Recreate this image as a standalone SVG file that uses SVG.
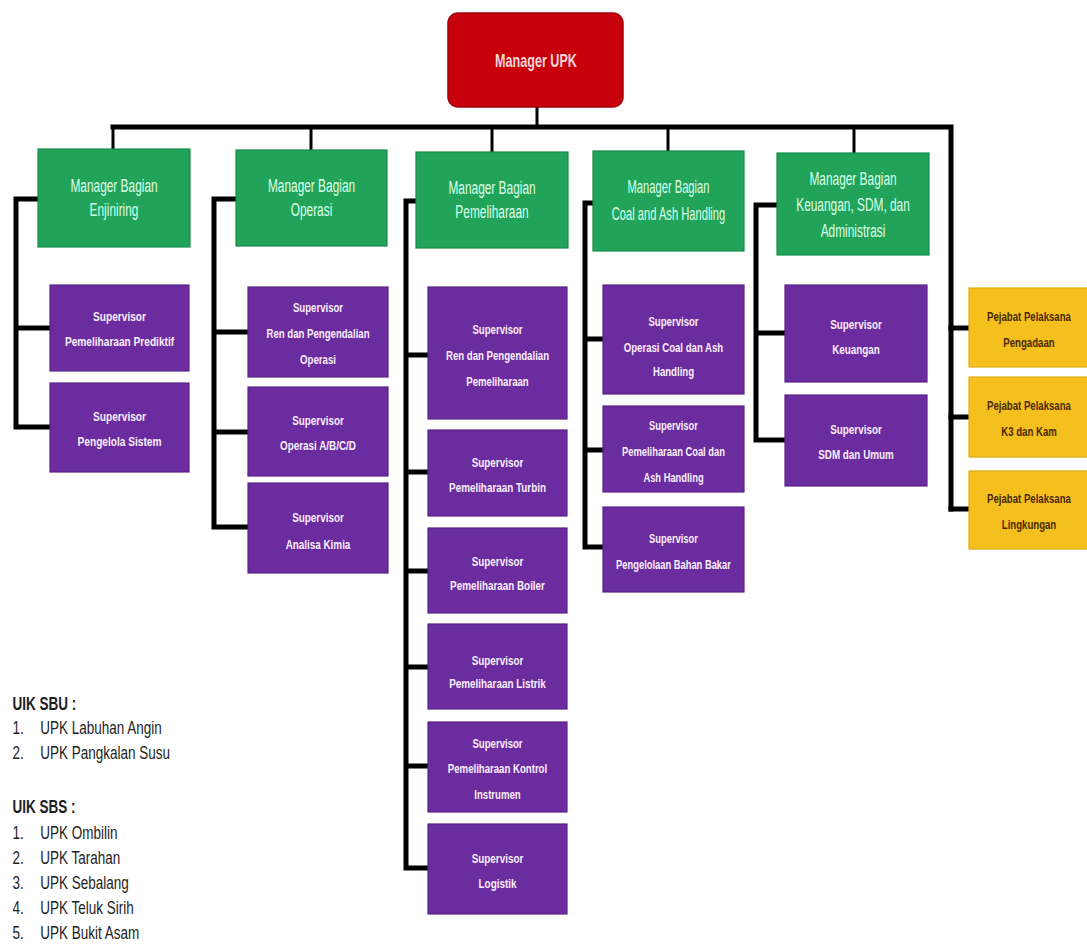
<svg xmlns="http://www.w3.org/2000/svg" width="1087" height="946" viewBox="0 0 1087 946">
<style>
.bg{fill:#ffffff}
.red{fill:#c8000c;stroke:#a00008;stroke-width:1.5}
.grn{fill:#21a45a;stroke:#1a8a4a;stroke-width:1.2}
.pur{fill:#6a2c9e;stroke:#5a2388;stroke-width:1.2}
.yel{fill:#f5bf1e;stroke:#e2ac12;stroke-width:1.2}
.tr{font-family:"Liberation Sans",Arial,sans-serif;font-weight:bold;font-size:18px;fill:#f6d6d6;text-anchor:middle}
.tg{font-family:"Liberation Sans",Arial,sans-serif;font-size:18px;fill:#dcffe9;text-anchor:middle}
.tp{font-family:"Liberation Sans",Arial,sans-serif;font-weight:bold;font-size:13px;fill:#fbefff;text-anchor:middle}
.ty{font-family:"Liberation Sans",Arial,sans-serif;font-weight:bold;font-size:13px;fill:#4a2a00;text-anchor:middle}
.tl{font-family:"Liberation Sans",Arial,sans-serif;font-size:18.5px;fill:#1e1e1e}
.tlb{font-weight:bold}
.ln{fill:none;stroke:#000;stroke-width:5;stroke-linecap:square;stroke-linejoin:miter}
.lt{fill:none;stroke:#000;stroke-width:3}
</style>
<rect class="bg" x="0" y="0" width="1087" height="946"/>

<g id="connectors">
  <path class="lt" d="M537 107 V127"/>
  <path class="ln" d="M113 127 H951 V509"/>
  <path class="lt" d="M113 127 V149 M311 127 V150 M492 127 V152 M668 127 V151 M854 127 V153"/>
  <path class="ln" d="M951 328 H967 M951 417 H967 M951 509 H967"/>
  <path class="ln" d="M37 199 H16 V427 M16 328 H48 M16 427 H48"/>
  <path class="ln" d="M235 199 H214 V527 M214 332 H246 M214 432 H246 M214 527 H246"/>
  <path class="ln" d="M415 201 H406 V868 M406 355 H426 M406 472 H426 M406 571 H426 M406 667 H426 M406 766 H426 M406 868 H426"/>
  <path class="ln" d="M592 203 H585 V547 M585 339 H601 M585 450 H601 M585 547 H601"/>
  <path class="ln" d="M776 205 H756 V440 M756 333 H783 M756 440 H783"/>
</g>

<g id="manager-upk">
  <rect class="red" x="448" y="13" width="175" height="94" rx="10"/>
  <text class="tr" transform="translate(536 0) scale(0.7 1)" x="0" y="67">Manager UPK</text>
</g>

<g id="mb-enjiniring">
  <rect class="grn" x="38" y="149" width="152" height="98"/>
  <text class="tg" transform="translate(114 0) scale(0.66 1)" x="0" y="192">Manager Bagian</text>
  <text class="tg" transform="translate(114 0) scale(0.66 1)" x="0" y="216">Enjiniring</text>
</g>
<g id="mb-operasi">
  <rect class="grn" x="236" y="150" width="151" height="96"/>
  <text class="tg" transform="translate(311.5 0) scale(0.66 1)" x="0" y="192">Manager Bagian</text>
  <text class="tg" transform="translate(311.5 0) scale(0.66 1)" x="0" y="216">Operasi</text>
</g>
<g id="mb-pemeliharaan">
  <rect class="grn" x="416" y="152" width="152" height="96"/>
  <text class="tg" transform="translate(492 0) scale(0.66 1)" x="0" y="194">Manager Bagian</text>
  <text class="tg" transform="translate(492 0) scale(0.66 1)" x="0" y="218">Pemeliharaan</text>
</g>
<g id="mb-coal">
  <rect class="grn" x="593" y="151" width="151" height="100"/>
  <text class="tg" transform="translate(668.5 0) scale(0.62 1)" x="0" y="193">Manager Bagian</text>
  <text class="tg" transform="translate(668.5 0) scale(0.62 1)" x="0" y="220">Coal and Ash Handling</text>
</g>
<g id="mb-keuangan">
  <rect class="grn" x="777" y="153" width="152" height="102"/>
  <text class="tg" transform="translate(853 0) scale(0.66 1)" x="0" y="185">Manager Bagian</text>
  <text class="tg" transform="translate(853 0) scale(0.66 1)" x="0" y="211">Keuangan, SDM, dan</text>
  <text class="tg" transform="translate(853 0) scale(0.66 1)" x="0" y="237">Administrasi</text>
</g>

<g id="sup-prediktif">
  <rect class="pur" x="50" y="285" width="139" height="86"/>
  <text class="tp" transform="translate(119.5 0) scale(0.78 1)" x="0" y="321">Supervisor</text>
  <text class="tp" transform="translate(119.5 0) scale(0.78 1)" x="0" y="346">Pemeliharaan Prediktif</text>
</g>
<g id="sup-sistem">
  <rect class="pur" x="50" y="383" width="139" height="89"/>
  <text class="tp" transform="translate(119.5 0) scale(0.78 1)" x="0" y="421">Supervisor</text>
  <text class="tp" transform="translate(119.5 0) scale(0.78 1)" x="0" y="446">Pengelola Sistem</text>
</g>

<g id="sup-ren-operasi">
  <rect class="pur" x="248" y="287" width="140" height="90"/>
  <text class="tp" transform="translate(318 0) scale(0.74 1)" x="0" y="312">Supervisor</text>
  <text class="tp" transform="translate(318 0) scale(0.74 1)" x="0" y="338">Ren dan Pengendalian</text>
  <text class="tp" transform="translate(318 0) scale(0.74 1)" x="0" y="364">Operasi</text>
</g>
<g id="sup-operasi-abcd">
  <rect class="pur" x="248" y="387" width="140" height="89"/>
  <text class="tp" transform="translate(318 0) scale(0.76 1)" x="0" y="425">Supervisor</text>
  <text class="tp" transform="translate(318 0) scale(0.76 1)" x="0" y="450">Operasi A/B/C/D</text>
</g>
<g id="sup-kimia">
  <rect class="pur" x="248" y="483" width="140" height="90"/>
  <text class="tp" transform="translate(318 0) scale(0.76 1)" x="0" y="522">Supervisor</text>
  <text class="tp" transform="translate(318 0) scale(0.76 1)" x="0" y="549">Analisa Kimia</text>
</g>

<g id="sup-ren-pemeliharaan">
  <rect class="pur" x="428" y="287" width="139" height="132"/>
  <text class="tp" transform="translate(497.5 0) scale(0.74 1)" x="0" y="334">Supervisor</text>
  <text class="tp" transform="translate(497.5 0) scale(0.74 1)" x="0" y="360">Ren dan Pengendalian</text>
  <text class="tp" transform="translate(497.5 0) scale(0.74 1)" x="0" y="386">Pemeliharaan</text>
</g>
<g id="sup-turbin">
  <rect class="pur" x="428" y="430" width="139" height="86"/>
  <text class="tp" transform="translate(497.5 0) scale(0.76 1)" x="0" y="467">Supervisor</text>
  <text class="tp" transform="translate(497.5 0) scale(0.76 1)" x="0" y="492">Pemeliharaan Turbin</text>
</g>
<g id="sup-boiler">
  <rect class="pur" x="428" y="528" width="139" height="85"/>
  <text class="tp" transform="translate(497.5 0) scale(0.76 1)" x="0" y="566">Supervisor</text>
  <text class="tp" transform="translate(497.5 0) scale(0.76 1)" x="0" y="590">Pemeliharaan Boiler</text>
</g>
<g id="sup-listrik">
  <rect class="pur" x="428" y="624" width="139" height="85"/>
  <text class="tp" transform="translate(497.5 0) scale(0.76 1)" x="0" y="665">Supervisor</text>
  <text class="tp" transform="translate(497.5 0) scale(0.76 1)" x="0" y="688">Pemeliharaan Listrik</text>
</g>
<g id="sup-kontrol">
  <rect class="pur" x="428" y="722" width="139" height="90"/>
  <text class="tp" transform="translate(497.5 0) scale(0.74 1)" x="0" y="748">Supervisor</text>
  <text class="tp" transform="translate(497.5 0) scale(0.74 1)" x="0" y="773">Pemeliharaan Kontrol</text>
  <text class="tp" transform="translate(497.5 0) scale(0.74 1)" x="0" y="799">Instrumen</text>
</g>
<g id="sup-logistik">
  <rect class="pur" x="428" y="824" width="139" height="90"/>
  <text class="tp" transform="translate(497.5 0) scale(0.76 1)" x="0" y="863">Supervisor</text>
  <text class="tp" transform="translate(497.5 0) scale(0.76 1)" x="0" y="888">Logistik</text>
</g>

<g id="sup-operasi-coal">
  <rect class="pur" x="603" y="285" width="141" height="109"/>
  <text class="tp" transform="translate(673.5 0) scale(0.74 1)" x="0" y="326">Supervisor</text>
  <text class="tp" transform="translate(673.5 0) scale(0.74 1)" x="0" y="352">Operasi Coal dan Ash</text>
  <text class="tp" transform="translate(673.5 0) scale(0.74 1)" x="0" y="376">Handling</text>
</g>
<g id="sup-pemeliharaan-coal">
  <rect class="pur" x="603" y="406" width="141" height="86"/>
  <text class="tp" transform="translate(673.5 0) scale(0.72 1)" x="0" y="430">Supervisor</text>
  <text class="tp" transform="translate(673.5 0) scale(0.72 1)" x="0" y="456">Pemeliharaan Coal dan</text>
  <text class="tp" transform="translate(673.5 0) scale(0.72 1)" x="0" y="482">Ash Handling</text>
</g>
<g id="sup-bahan-bakar">
  <rect class="pur" x="603" y="507" width="141" height="85"/>
  <text class="tp" transform="translate(673.5 0) scale(0.72 1)" x="0" y="543">Supervisor</text>
  <text class="tp" transform="translate(673.5 0) scale(0.72 1)" x="0" y="569">Pengelolaan Bahan Bakar</text>
</g>

<g id="sup-keuangan">
  <rect class="pur" x="785" y="285" width="142" height="97"/>
  <text class="tp" transform="translate(856 0) scale(0.76 1)" x="0" y="329">Supervisor</text>
  <text class="tp" transform="translate(856 0) scale(0.76 1)" x="0" y="354">Keuangan</text>
</g>
<g id="sup-sdm">
  <rect class="pur" x="785" y="395" width="142" height="91"/>
  <text class="tp" transform="translate(856 0) scale(0.76 1)" x="0" y="434">Supervisor</text>
  <text class="tp" transform="translate(856 0) scale(0.76 1)" x="0" y="459">SDM dan Umum</text>
</g>

<g id="pp-pengadaan">
  <rect class="yel" x="969" y="288" width="125" height="79"/>
  <text class="ty" transform="translate(1029 0) scale(0.74 1)" x="0" y="321">Pejabat Pelaksana</text>
  <text class="ty" transform="translate(1029 0) scale(0.74 1)" x="0" y="347">Pengadaan</text>
</g>
<g id="pp-k3">
  <rect class="yel" x="969" y="377" width="125" height="80"/>
  <text class="ty" transform="translate(1029 0) scale(0.74 1)" x="0" y="410">Pejabat Pelaksana</text>
  <text class="ty" transform="translate(1029 0) scale(0.74 1)" x="0" y="436">K3 dan Kam</text>
</g>
<g id="pp-lingkungan">
  <rect class="yel" x="969" y="471" width="125" height="78"/>
  <text class="ty" transform="translate(1029 0) scale(0.74 1)" x="0" y="503">Pejabat Pelaksana</text>
  <text class="ty" transform="translate(1029 0) scale(0.74 1)" x="0" y="529">Lingkungan</text>
</g>

<g id="legend" transform="scale(0.73 1)">
  <text class="tl tlb" x="17" y="710">UIK SBU :</text>
  <text class="tl" x="17" y="734">1.</text><text class="tl" x="55" y="734">UPK Labuhan Angin</text>
  <text class="tl" x="17" y="759">2.</text><text class="tl" x="55" y="759">UPK Pangkalan Susu</text>
  <text class="tl tlb" x="17" y="813">UIK SBS :</text>
  <text class="tl" x="17" y="839">1.</text><text class="tl" x="55" y="839">UPK Ombilin</text>
  <text class="tl" x="17" y="864">2.</text><text class="tl" x="55" y="864">UPK Tarahan</text>
  <text class="tl" x="17" y="889">3.</text><text class="tl" x="55" y="889">UPK Sebalang</text>
  <text class="tl" x="17" y="914">4.</text><text class="tl" x="55" y="914">UPK Teluk Sirih</text>
  <text class="tl" x="17" y="939">5.</text><text class="tl" x="55" y="939">UPK Bukit Asam</text>
</g>
</svg>
